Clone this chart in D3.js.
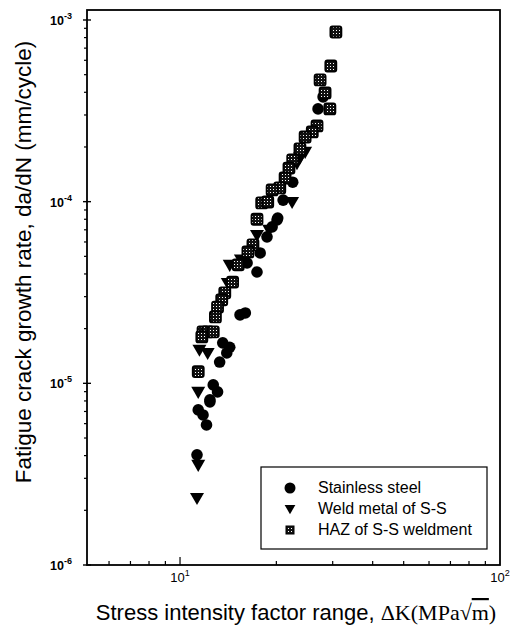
<!DOCTYPE html>
<html>
<head>
<meta charset="utf-8">
<script src="https://cdn.jsdelivr.net/npm/d3@7"></script>
<style>
  body { margin: 0; background: #fff; }
  svg { display: block; }
</style>
</head>
<body>
<svg id="chart" width="529" height="632"></svg>
<script>
// delta K (MPa sqrt m) and da/dN (mm/cycle)
let steelK = [27.0, 28.0, 22.5, 21.0, 20.2, 20.1, 19.4, 18.7, 17.8, 16.2, 17.4, 15.4, 16.0, 13.6, 14.3, 14.0, 13.3, 12.7, 13.1, 12.4, 12.4, 11.4, 11.8, 12.1, 11.3]
let steelRate = [3.24e-4, 3.77e-4, 1.28e-4, 1.02e-4, 8.13e-5, 7.93e-5, 7.26e-5, 6.40e-5, 5.22e-5, 4.60e-5, 4.10e-5, 2.38e-5, 2.44e-5, 1.67e-5, 1.58e-5, 1.47e-5, 1.31e-5, 9.8e-6, 8.97e-6, 8.11e-6, 7.91e-6, 7.14e-6, 6.70e-6, 5.90e-6, 4.04e-6]

let weldK = [24.6, 23.7, 23.2, 22.4, 19.0, 17.4, 15.5, 14.3, 14.1, 11.5, 12.2, 11.4, 11.4, 11.3]
let weldRate = [1.88e-4, 1.75e-4, 1.63e-4, 9.96e-5, 7.0e-5, 6.56e-5, 4.8e-5, 4.49e-5, 3.57e-5, 1.53e-5, 1.47e-5, 8.97e-6, 3.56e-6, 2.34e-6]

let hazK = [30.7, 29.6, 27.4, 28.4, 29.4, 26.8, 25.9, 24.6, 23.7, 22.5, 21.9, 21.3, 20.5, 19.4, 18.0, 18.8, 17.4, 16.9, 16.3, 15.2, 14.6, 13.8, 13.5, 13.1, 12.9, 11.8, 12.2, 12.7, 11.7, 11.4]
let hazRate = [8.59e-4, 5.58e-4, 4.68e-4, 3.97e-4, 3.24e-4, 2.61e-4, 2.42e-4, 2.27e-4, 1.95e-4, 1.70e-4, 1.53e-4, 1.35e-4, 1.19e-4, 1.16e-4, 9.84e-5, 9.96e-5, 8.0e-5, 5.78e-5, 5.29e-5, 4.49e-5, 3.61e-5, 3.15e-5, 2.88e-5, 2.63e-5, 2.32e-5, 1.92e-5, 1.92e-5, 1.92e-5, 1.80e-5, 1.16e-5]

let xTicks = [10, 100]
let yTicks = [1e-3, 1e-4, 1e-5, 1e-6]
let legendNames = ['Stainless steel', 'Weld metal of S-S', 'HAZ of S-S weldment']

let svg = d3.select('#chart')
let mLeft = 87, mRight = 500, mTop = 10, mBottom = 565

let x = d3.scaleLog().domain([5.12, 100]).range([mLeft, mRight])
let y = d3.scaleLog().domain([1e-6, 1.135e-3]).range([mBottom, mTop])

let zip = (a, b) => a.map((v, i) => [v, b[i]])
let sans = 'Liberation Sans, Arial, sans-serif'
let serif = 'Liberation Serif, Times New Roman, serif'

// speckle pattern for the HAZ squares
let pat = svg.append('defs').append('pattern')
    .attr('id', 'speckle')
    .attr('width', 3).attr('height', 3)
    .attr('patternUnits', 'userSpaceOnUse')
pat.append('rect').attr('width', 3).attr('height', 3).attr('fill', '#111')
pat.append('rect').attr('width', 1).attr('height', 1).attr('fill', '#fff')

// minor ticks
let minorX = []
for (let d = 1; d <= 10; d *= 10) for (let m = 1; m < 10; m++) {
    let v = m * d
    if (v > 5.12 && v < 100) minorX.push(v)
}
let minorY = []
for (let e = -6; e < -3; e++) for (let m = 2; m < 10; m++) minorY.push(m * Math.pow(10, e))

let axes = svg.append('g').attr('stroke', '#000').attr('fill', 'none')

axes.selectAll('.mx')
    .data(minorX)
    .enter()
    .append('line')
    .attr('x1', d => x(d)).attr('x2', d => x(d))
    .attr('y1', mBottom).attr('y2', d => d === 10 ? mBottom - 8 : mBottom - 4)
    .attr('stroke-width', 1.2)

axes.selectAll('.my')
    .data(minorY)
    .enter()
    .append('line')
    .attr('y1', d => y(d)).attr('y2', d => y(d))
    .attr('x1', mLeft - 3).attr('x2', mLeft)
    .attr('stroke-width', 1.2)

axes.selectAll('.My')
    .data(yTicks)
    .enter()
    .append('line')
    .attr('y1', d => y(d)).attr('y2', d => y(d))
    .attr('x1', mLeft - 4).attr('x2', mLeft + 4)
    .attr('stroke-width', 1.4)

axes.append('rect')
    .attr('x', mLeft).attr('y', mTop)
    .attr('width', mRight - mLeft).attr('height', mBottom - mTop)
    .attr('stroke-width', 1.8)

// tick labels
let yl = svg.selectAll('.ylab')
    .data(yTicks)
    .enter()
    .append('text')
    .attr('x', mLeft - 15)
    .attr('y', d => y(d) + 5)
    .attr('text-anchor', 'end')
    .attr('font-family', sans)
    .attr('font-weight', 'bold')
    .attr('font-size', 12.5)
yl.append('tspan').text('10')
yl.append('tspan')
    .attr('dy', -6)
    .attr('font-size', 9)
    .text(d => String(Math.round(Math.log10(d))))

let xl = svg.selectAll('.xlab')
    .data(xTicks)
    .enter()
    .append('text')
    .attr('x', d => x(d))
    .attr('y', 582)
    .attr('text-anchor', 'middle')
    .attr('font-family', sans)
    .attr('font-size', 13)
xl.append('tspan').text('10')
xl.append('tspan')
    .attr('dy', -6)
    .attr('font-size', 9)
    .text(d => String(Math.round(Math.log10(d))))

// axis titles
svg.append('text')
    .attr('transform', 'translate(31,262) rotate(-90)')
    .attr('text-anchor', 'middle')
    .attr('font-family', sans)
    .attr('font-size', 22.5)
    .text('Fatigue crack growth rate, da/dN (mm/cycle)')

let xt = svg.append('text')
    .attr('x', 296).attr('y', 620)
    .attr('text-anchor', 'middle')
    .attr('font-family', sans)
    .attr('font-size', 22)
xt.append('tspan').text('Stress intensity factor range, ')
xt.append('tspan').attr('font-family', serif).text('\u0394K(MPa\u221A')
xt.append('tspan').attr('font-family', serif)
    .attr('text-decoration', 'overline').text('m')
xt.append('tspan').attr('font-family', serif).text(')')

// markers
let tri = d3.symbol().type(d3.symbolTriangle).size(85)

let plot = svg.append('g')

plot.selectAll('.steel')
    .data(zip(steelK, steelRate))
    .enter()
    .append('circle')
    .attr('cx', d => x(d[0])).attr('cy', d => y(d[1]))
    .attr('r', 5.8)
    .attr('fill', '#000')

plot.selectAll('.weld')
    .data(zip(weldK, weldRate))
    .enter()
    .append('path')
    .attr('d', tri)
    .attr('transform', d => 'translate(' + x(d[0]) + ',' + (y(d[1]) - 1) + ') rotate(180)')
    .attr('fill', '#000')

plot.selectAll('.haz')
    .data(zip(hazK, hazRate))
    .enter()
    .append('rect')
    .attr('x', d => x(d[0]) - 5.5).attr('y', d => y(d[1]) - 5.5)
    .attr('width', 11).attr('height', 11)
    .attr('rx', 2)
    .attr('fill', 'url(#speckle)')
    .attr('stroke', '#000')
    .attr('stroke-width', 1.8)

// legend
let lg = svg.append('g')
lg.append('rect')
    .attr('x', 261).attr('y', 467)
    .attr('width', 226).attr('height', 82)
    .attr('fill', '#fff')
    .attr('stroke', '#000')
    .attr('stroke-width', 1.2)

let rowY = [488, 509, 530]
lg.append('circle').attr('cx', 290).attr('cy', rowY[0]).attr('r', 5.5).attr('fill', '#000')
lg.append('path')
    .attr('d', d3.symbol().type(d3.symbolTriangle).size(50))
    .attr('transform', 'translate(290,' + (rowY[1] - 1) + ') rotate(180)')
    .attr('fill', '#000')
lg.append('rect')
    .attr('x', 286).attr('y', rowY[2] - 4)
    .attr('width', 8).attr('height', 8)
    .attr('fill', 'url(#speckle)')
    .attr('stroke', '#000').attr('stroke-width', 1)

lg.selectAll('.ltxt')
    .data(legendNames)
    .enter()
    .append('text')
    .attr('x', 318)
    .attr('y', (d, i) => rowY[i] + 5)
    .attr('font-family', sans)
    .attr('font-size', 16)
    .text(d => d)
</script>
</body>
</html>
